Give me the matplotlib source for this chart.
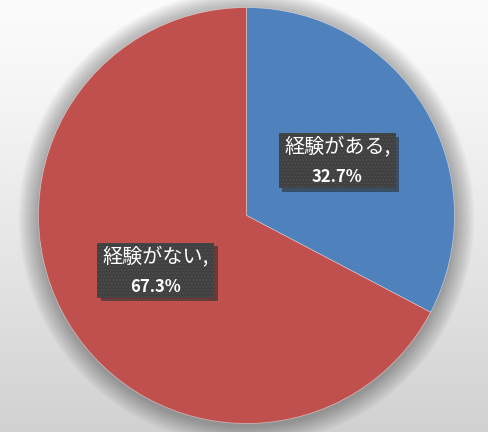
import numpy as np
import matplotlib.pyplot as plt
import matplotlib.patheffects as pe
from matplotlib.patches import Rectangle
from matplotlib.transforms import ScaledTranslation

plt.rcParams['font.family'] = ['Noto Sans CJK JP', 'DejaVu Sans']

categories = ["経験がある", "経験がない"]
shares = [32.7, 67.3]
pct_labels = ["32.7%", "67.3%"]
colors = ["#4F81BD", "#C0504D"]

W, H = 489, 432
fig = plt.figure(figsize=(W / 100, H / 100), dpi=100)

# background: vertical light gray gradient
bg = fig.add_axes([0, 0, 1, 1])
yy = np.linspace(0, 1, 200)[:, None]
grad = 0.985 - 0.165 * yy ** 1.2
bg.imshow(np.repeat(grad, 2, axis=1), cmap='gray', vmin=0, vmax=1,
          aspect='auto', extent=[0, 1, 1, 0], interpolation='bicubic')
bg.set_axis_off()

# pie axes: center (246.5, 215.5), radius ~208 px
cx, cy, r = 246.5, 215.5, 208
size = 2 * r + 2
ax = fig.add_axes([(cx - size / 2) / W, 1 - (cy + size / 2) / H, size / W, size / H])

wedges, texts = ax.pie(shares, labels=categories, colors=colors, startangle=90,
                       counterclock=False, radius=1.0, labeldistance=0.51,
                       wedgeprops=dict(linewidth=0.5, edgecolor=(1, 1, 1, 0.5)),
                       textprops=dict(ha='center', va='center'))
ax.set_xlim(-1.005, 1.005)
ax.set_ylim(-1.005, 1.005)
ax.set_aspect('equal')
ax.set_axis_off()

# soft shadow around the pie
for k in range(16):
    rad = 1.0 + 0.006 * (k + 1)
    ax.add_patch(plt.Circle((0.0, -0.01), rad, color='black', alpha=0.02,
                            lw=0, zorder=0, clip_on=False))

box_w, box_h = 1.17, 0.55   # inches
for t, name, pct in zip(texts, categories, pct_labels):
    x, y = t.get_position()
    # dark label box centred on the label anchor
    tr = fig.dpi_scale_trans + ScaledTranslation(x, y, ax.transData)
    box = Rectangle((-box_w / 2, -box_h / 2), box_w, box_h, transform=tr,
                    fc='#3f3f3f', ec='#4e4e4e', lw=0, hatch='.....', zorder=4)
    box.set_path_effects([pe.SimplePatchShadow(offset=(2.5, -2.5), alpha=0.45), pe.Normal()])
    ax.add_patch(box)
    t.set_text(name + ",")
    t.set_position((x, y + 0.06))
    t.set_color('white')
    t.set_fontsize(14.5)
    t.set_zorder(5)
    ax.text(x, y - 0.078, pct, ha='center', va='center', color='white',
            fontsize=12, fontweight='bold', zorder=5)

fig.savefig("out.png", dpi=100)
